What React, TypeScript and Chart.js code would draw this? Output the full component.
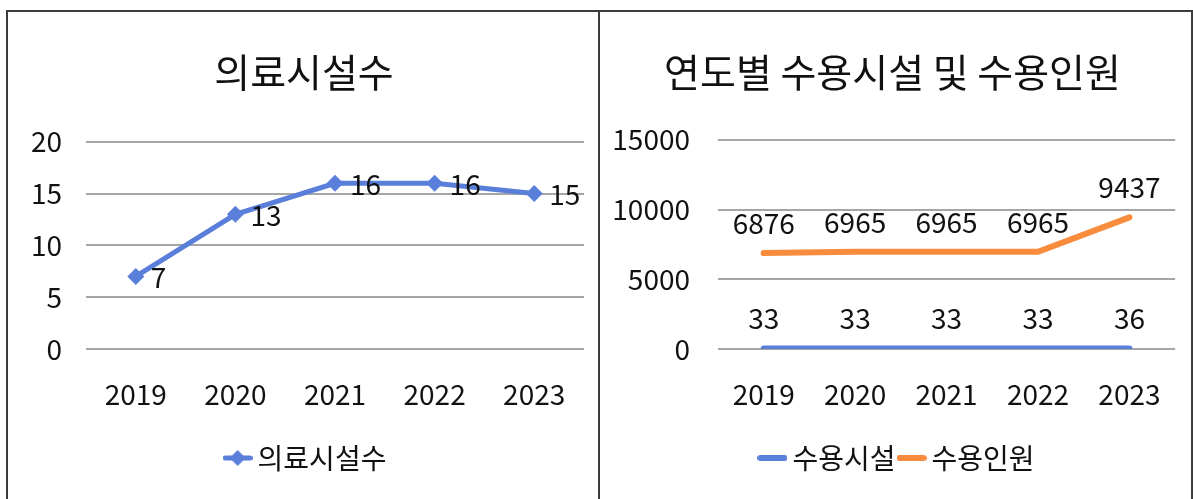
import React, { useEffect, useRef } from "react";
import { Chart, registerables } from "chart.js";

Chart.register(...registerables);

// ---------- data ----------
const years = ["2019", "2020", "2021", "2022", "2023"];
const medicalFacilities = [7, 13, 16, 16, 15];
const shelterFacilities = [33, 33, 33, 33, 36];
const shelterCapacity = [6876, 6965, 6965, 6965, 9437];

const leftTitle = "의료시설수";
const leftSeriesName = "의료시설수";
const rightTitle = "연도별 수용시설 및 수용인원";
const rightSeriesNames = ["수용시설", "수용인원"];

const leftAxis = { min: 0, max: 20, step: 5 };
const rightAxis = { min: 0, max: 15000, step: 5000 };

// ---------- style ----------
const FONT = "'Noto Sans CJK KR', 'Noto Sans', sans-serif";
const BLUE = "#5A7FDA";
const ORANGE = "#F98B3C";
const GRID = "#A6A6A6";
const TEXT = "#111111";
const FS = 28;

Chart.defaults.font.family = FONT;
Chart.defaults.color = TEXT;

function legendGlyph(color: string, diamond: boolean, lw: number) {
  const w = 30;
  const h = 18;
  const c = document.createElement("canvas");
  c.width = w;
  c.height = h;
  const ctx = c.getContext("2d")!;
  ctx.strokeStyle = color;
  ctx.lineWidth = lw;
  ctx.lineCap = "round";
  ctx.beginPath();
  ctx.moveTo(lw / 2, h / 2);
  ctx.lineTo(w - lw / 2, h / 2);
  ctx.stroke();
  if (diamond) {
    ctx.fillStyle = color;
    ctx.beginPath();
    ctx.moveTo(w / 2, h / 2 - 8);
    ctx.lineTo(w / 2 + 8, h / 2);
    ctx.lineTo(w / 2, h / 2 + 8);
    ctx.lineTo(w / 2 - 8, h / 2);
    ctx.closePath();
    ctx.fill();
  }
  return c;
}

function valueLabels(mode: "right" | "above") {
  return {
    id: "valueLabels",
    afterDatasetsDraw(chart: any) {
      const ctx = chart.ctx;
      ctx.save();
      ctx.font = `${FS}px ${FONT}`;
      ctx.fillStyle = TEXT;
      ctx.textBaseline = "middle";
      chart.data.datasets.forEach((ds: any, di: number) => {
        const meta = chart.getDatasetMeta(di);
        meta.data.forEach((pt: any, i: number) => {
          const v = String(ds.data[i]);
          if (mode === "right") {
            ctx.textAlign = "left";
            ctx.fillText(v, pt.x + 15, pt.y + 1);
          } else {
            ctx.textAlign = "center";
            ctx.fillText(v, pt.x, pt.y - 30);
          }
        });
      });
      ctx.restore();
    },
  };
}

function legendShift(dx: number) {
  return {
    id: "legendShift",
    afterLayout(chart: any) {
      const lg = chart.legend;
      if (lg) {
        lg.left += dx;
        lg.right += dx;
      }
    },
  };
}

function baseOptions(opts: {
  title: string;
  axis: { min: number; max: number; step: number };
  yWidth: number;
  yPad: number;
  padLeft: number;
  padRight: number;
  titleBottom: number;
  glyphs: HTMLCanvasElement[];
}) {
  return {
    responsive: false,
    maintainAspectRatio: false,
    animation: false,
    layout: { padding: { left: opts.padLeft, right: opts.padRight, top: 0, bottom: 17 } },
    plugins: {
      title: {
        display: true,
        text: opts.title,
        color: TEXT,
        font: { size: 39, weight: "normal", family: FONT },
        padding: { top: 37, bottom: opts.titleBottom },
      },
      legend: {
        display: true,
        position: "bottom",
        labels: {
          usePointStyle: true,
          boxWidth: 12,
          padding: 10,
          color: TEXT,
          font: { size: FS, family: FONT },
          generateLabels: (chart: any) => {
            const items = Chart.defaults.plugins.legend.labels.generateLabels(chart);
            return items.map((it: any, i: number) => ({ ...it, pointStyle: opts.glyphs[i] }));
          },
        },
      },
      tooltip: { enabled: false },
    },
    scales: {
      x: {
        offset: true,
        grid: { display: false, drawTicks: false, offset: true },
        border: { display: false },
        ticks: { padding: 29, color: TEXT, font: { size: FS, family: FONT } },
        afterFit: (s: any) => {
          s.height = 85;
        },
      },
      y: {
        min: opts.axis.min,
        max: opts.axis.max,
        grid: { color: GRID, lineWidth: 2, drawTicks: false },
        border: { display: false },
        ticks: {
          stepSize: opts.axis.step,
          padding: opts.yPad,
          color: TEXT,
          font: { size: FS, family: FONT },
          callback: (v: any) => String(v),
        },
        afterFit: (s: any) => {
          s.width = opts.yWidth;
        },
      },
    },
  } as any;
}

function LeftChart() {
  const ref = useRef<HTMLCanvasElement>(null);
  useEffect(() => {
    const chart = new Chart(ref.current!, {
      type: "line",
      data: {
        labels: years,
        datasets: [
          {
            label: leftSeriesName,
            data: medicalFacilities,
            borderColor: BLUE,
            backgroundColor: BLUE,
            borderWidth: 5,
            pointStyle: "rectRot",
            pointRadius: 8.5,
            pointBorderWidth: 0,
            pointBackgroundColor: BLUE,
            tension: 0,
          },
        ],
      },
      options: baseOptions({
        title: leftTitle,
        axis: leftAxis,
        yWidth: 62,
        yPad: 24,
        padLeft: 16,
        padRight: 13,
        titleBottom: 46,
        glyphs: [legendGlyph(BLUE, true, 5)],
      }),
      plugins: [valueLabels("right"), legendShift(5)],
    });
    return () => chart.destroy();
  }, []);
  return <canvas ref={ref} width={589} height={487} style={{ width: 589, height: 487, display: "block" }} />;
}

function RightChart() {
  const ref = useRef<HTMLCanvasElement>(null);
  useEffect(() => {
    const chart = new Chart(ref.current!, {
      type: "line",
      data: {
        labels: years,
        datasets: [
          {
            label: rightSeriesNames[0],
            data: shelterFacilities,
            borderColor: BLUE,
            backgroundColor: BLUE,
            borderWidth: 6,
            borderCapStyle: "round",
            pointRadius: 0,
            tension: 0,
          },
          {
            label: rightSeriesNames[1],
            data: shelterCapacity,
            borderColor: ORANGE,
            backgroundColor: ORANGE,
            borderWidth: 6,
            borderCapStyle: "round",
            pointRadius: 0,
            tension: 0,
          },
        ],
      },
      options: baseOptions({
        title: rightTitle,
        axis: rightAxis,
        yWidth: 118,
        yPad: 28,
        padLeft: 0,
        padRight: 5,
        titleBottom: 44,
        glyphs: [legendGlyph(BLUE, false, 6), legendGlyph(ORANGE, false, 6)],
      }),
      plugins: [valueLabels("above"), legendShift(8)],
    });
    return () => chart.destroy();
  }, []);
  return <canvas ref={ref} width={590} height={487} style={{ width: 590, height: 487, display: "block" }} />;
}

export default function App() {
  return (
    <div
      style={{
        position: "absolute",
        left: 0,
        top: 0,
        width: 1193,
        height: 499,
        background: "#fff",
        overflow: "hidden",
      }}
    >
      <div
        style={{
          position: "absolute",
          left: 6,
          top: 10,
          width: 1187,
          height: 520,
          boxSizing: "border-box",
          border: "2px solid #3c3c3c",
        }}
      />
      <div style={{ position: "absolute", left: 598, top: 10, width: 2, height: 520, background: "#3c3c3c" }} />
      <div style={{ position: "absolute", left: 8, top: 12 }}>
        <LeftChart />
      </div>
      <div style={{ position: "absolute", left: 600, top: 12 }}>
        <RightChart />
      </div>
    </div>
  );
}
